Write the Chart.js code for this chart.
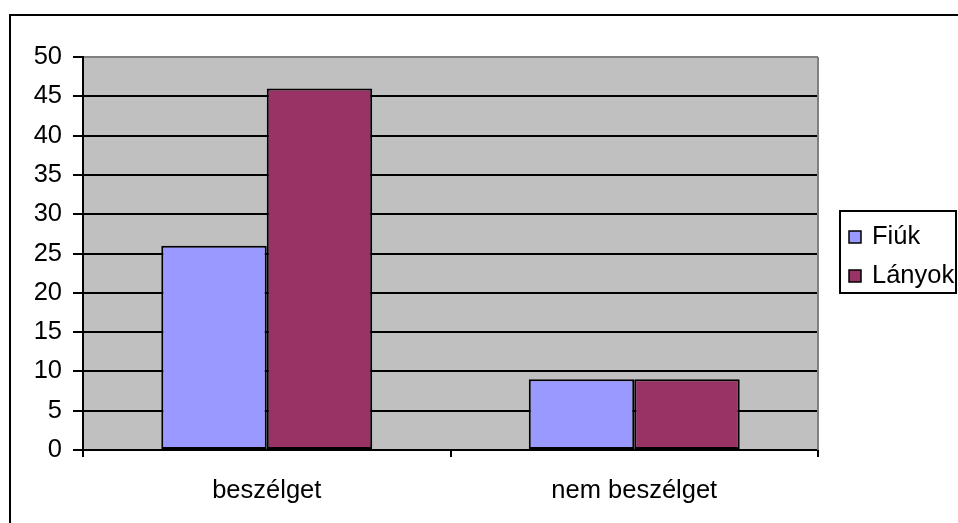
<!DOCTYPE html>
<html>
<head>
<meta charset="utf-8">
<script src="https://cdn.jsdelivr.net/npm/chart.js@4"></script>
<style>
html,body{margin:0;padding:0;background:#fff;}
canvas{display:block;}
</style>
</head>
<body>
<canvas id="c" width="958" height="523"></canvas>
<script>
const categories = ['beszélget', 'nem beszélget'];
const fiukValues = [26, 9];
const lanyokValues = [46, 9];
const seriesNames = ['Fiúk', 'Lányok'];
const seriesColors = ['#9999FF', '#993366'];

const FONT = "'Liberation Sans', Arial, sans-serif";
const FS = 25.5;

const framePlugin = {
  id: 'frame',
  beforeDraw(chart) {
    const c = chart.ctx, a = chart.chartArea;
    c.save();
    c.fillStyle = '#fff';
    c.fillRect(0, 0, chart.width, chart.height);
    c.fillStyle = '#C0C0C0';
    c.fillRect(a.left, a.top, a.right - a.left, a.bottom - a.top);
    c.strokeStyle = '#000';
    c.lineWidth = 2;
    c.strokeRect(10, 15, 1000, 600);
    c.restore();
  },
  afterDraw(chart) {
    const c = chart.ctx, a = chart.chartArea;
    c.save();
    c.strokeStyle = '#808080';
    c.lineWidth = 2;
    c.beginPath();
    c.moveTo(a.right, a.top);
    c.lineTo(a.right, a.bottom);
    c.stroke();
    // legend
    const lx = 839, ly = 210, lw = 118, lh = 84;
    c.fillStyle = '#fff';
    c.fillRect(lx, ly, lw, lh);
    c.strokeStyle = '#000';
    c.lineWidth = 2;
    c.strokeRect(lx + 1, ly + 1, lw - 2, lh - 2);
    c.font = FS + 'px ' + FONT;
    c.textBaseline = 'alphabetic';
    chart.data.datasets.forEach((ds, i) => {
      const base = 244 + i * 39;
      c.fillStyle = ds.backgroundColor;
      c.fillRect(849, base - 13, 12, 12);
      c.lineWidth = 1.5;
      c.strokeStyle = '#000';
      c.strokeRect(849, base - 13, 12, 12);
      c.fillStyle = '#000';
      c.fillText(ds.label, 872, base);
    });
    c.restore();
  }
};

new Chart(document.getElementById('c'), {
  type: 'bar',
  data: {
    labels: categories,
    datasets: [
      { label: seriesNames[0], data: fiukValues, backgroundColor: seriesColors[0], borderColor: '#000', borderWidth: 2, borderSkipped: false },
      { label: seriesNames[1], data: lanyokValues, backgroundColor: seriesColors[1], borderColor: '#000', borderWidth: 2, borderSkipped: false }
    ]
  },
  options: {
    responsive: false,
    animation: false,
    layout: { padding: { left: 0, top: 57, right: 140, bottom: 0 } },
    plugins: { legend: { display: false }, tooltip: { enabled: false } },
    datasets: { bar: { barPercentage: 1, categoryPercentage: 0.574 } },
    scales: {
      x: {
        offset: true,
        grid: { drawOnChartArea: false, drawTicks: true, tickLength: 7, color: '#000', lineWidth: 2, offset: true },
        border: { color: '#000', width: 2 },
        ticks: { color: '#000', font: { family: FONT, size: FS }, padding: 19, maxRotation: 0 },
        afterFit(s) { s.height = 73; }
      },
      y: {
        min: 0, max: 50,
        grid: { color: (ctx) => (ctx.tick && ctx.tick.value === 50) ? '#808080' : '#000', lineWidth: 2, tickLength: 10, drawTicks: true,
                tickColor: '#000' },
        border: { color: '#000', width: 2 },
        ticks: { stepSize: 5, color: '#000', font: { family: FONT, size: FS }, padding: 11 },
        afterFit(s) { s.width = 83; }
      }
    }
  },
  plugins: [framePlugin]
});
</script>
</body>
</html>
